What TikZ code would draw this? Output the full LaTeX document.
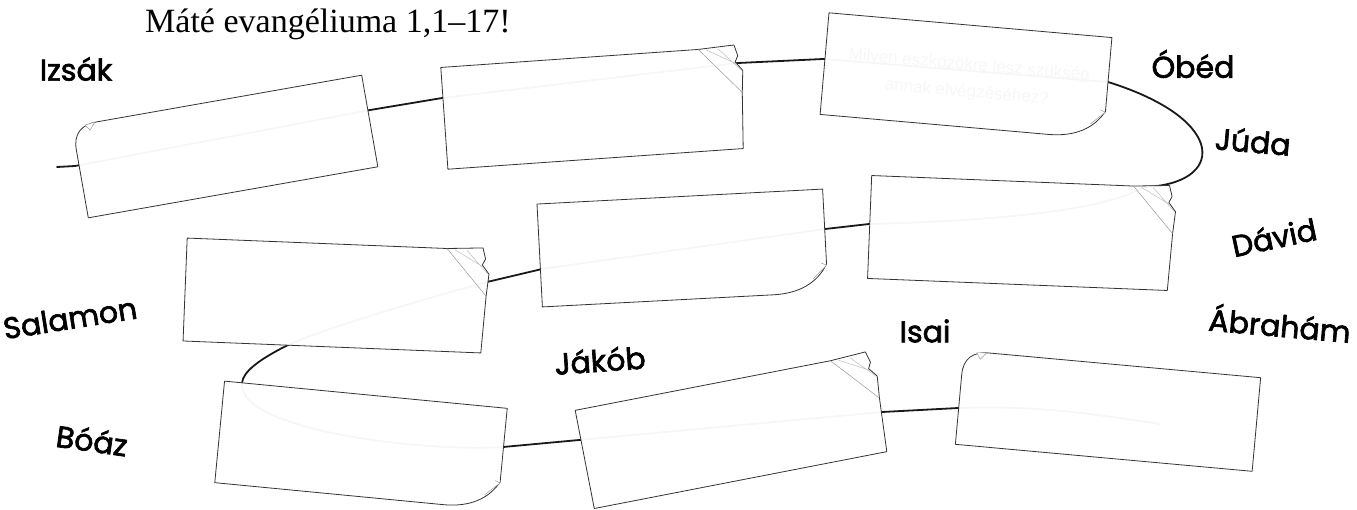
\documentclass[tikz,border=0pt]{standalone}
\usepackage{fontspec}
\setmainfont{Liberation Serif}
\newfontfamily\namefont{Poppins}[FakeBold=2.2]
\newfontfamily\hintfont{Liberation Sans}
\usetikzlibrary{calc}

\tikzset{
  note/.style={draw=black!80, line width=0.8pt, fill=white, fill opacity=0.965, line join=round},
  crease/.style={draw=black!40, line width=0.5pt},
  cord/.style={line width=1.8pt, black!90, line cap=round},
  person/.style={font=\namefont\fontsize{30}{30}\selectfont, inner sep=0pt},
  heading/.style={font=\fontsize{34}{34}\selectfont, inner sep=0pt},
  % note with the top right corner peeled
  pics/peel/.style 2 args={code={
    \path[note] (-#1,-#2) -- (#1-38,-#2) -- (#1-2,-#2-2) -- (#1+1,-#2+9) -- (#1-2,-#2+15)
      -- (#1+5,-#2+24) -- (#1+3,-#2+46) -- (#1,#2) -- (-#1,#2) -- cycle;
    \draw[crease] (#1-38,-#2) -- (#1+3,-#2+46);
    \draw[crease, black!25] (#1-30,-#2+1) -- (#1-1,-#2+17) (#1-18,-#2+1) -- (#1+4,-#2+24);
  }},
  % note with the bottom right corner rolled up
  pics/roll/.style 2 args={code={
    \path[note] (-#1,-#2) -- (#1,-#2) -- (#1,#2-28) .. controls (#1-10,#2-10) and (#1-28,#2) .. (#1-55,#2)
      -- (-#1,#2) -- cycle;
    \draw[crease, fill=white] (#1-5,#2-29) -- (#1,#2-27) -- (#1-14,#2-14);
  }},
  % note with a rounded top left corner
  pics/dog/.style 2 args={code={
    \path[note] (-#1,-#2+24) .. controls (-#1,-#2+8) and (-#1+9,-#2) .. (-#1+25,-#2) -- (#1,-#2)
      -- (#1,#2) -- (-#1,#2) -- cycle;
    \draw[crease, fill=white] (-#1+13,-#2+1) -- (-#1+23,-#2) -- (-#1+17,-#2+7) -- cycle;
  }}
}

\begin{document}
\begin{tikzpicture}[x=1pt, y=-1pt]
  \useasboundingbox (0,0) rectangle (1357,509);

  % where the cord goes into and out of the notes
  \coordinate (s)  at (57,167);
  \coordinate (i1) at (75,166);   \coordinate (o1) at (370,110);
  \coordinate (i2) at (442,98);   \coordinate (o2) at (738,63);
  \coordinate (i3) at (823,59);   \coordinate (o3) at (1108,82);
  \coordinate (i5) at (1143,187); \coordinate (o5) at (869,224);
  \coordinate (i4) at (825,229);  \coordinate (o4) at (542,269);
  \coordinate (i6) at (487,282);  \coordinate (o6) at (288,345);
  \coordinate (i7) at (242,383);  \coordinate (o7) at (503,447);
  \coordinate (i8) at (579,440);  \coordinate (o8) at (882,412);
  \coordinate (i9) at (958,408);  \coordinate (e)  at (1160,424);

  % the cord
  \draw[cord] (s) -- (i1) -- (o1) -- (i2) -- (o2) -- (i3) -- (o3)
    .. controls (1230,120) and (1225,185) .. (i5)
    .. controls (1100,215) and (950,222) .. (o5) -- (i4) -- (o4) -- (i6)
    .. controls (420,300) and (320,330) .. (o6)
    .. controls (258,360) and (243,372) .. (i7)
    .. controls (238,430) and (420,452) .. (o7) -- (i8) -- (o8) -- (i9)
    .. controls (1040,405) and (1100,415) .. (e);

  % notes
  \pic[rotate=10]   (c1) at (225,146.5)  {dog={147}{46.5}};
  \pic[rotate=4]    (c2) at (592,108)    {peel={148}{51}};
  \pic[rotate=-5]   (c3) at (966,76)     {roll={142}{51}};
  \pic[rotate=3]    (c4) at (682.5,248)  {roll={143}{51.5}};
  \pic[rotate=-2.3] (c5) at (1019.5,233) {peel={150}{51.5}};
  \pic[rotate=-2.3] (c6) at (334,295.5)  {peel={149}{51.5}};
  \pic[rotate=-5.5] (c7) at (361,445.5)  {roll={142}{51}};
  \pic[rotate=11]   (c8) at (731,431)    {peel={149}{50}};
  \pic[rotate=-5.2] (c9) at (1108,411)   {dog={149}{47}};

  \node[rotate=-5, text=black!3, align=center, font=\hintfont\fontsize{17}{27}\selectfont]
    (hint) at (968,79) {Milyen eszközökre lesz szükség\\annak elvégzéséhez?};

  % title and names
  \node[heading, anchor=base west] (title) at (145,32) {Máté evangéliuma 1,1–17!};
  \node[person] (izsak)   at (76,69)    {Izsák};
  \node[person] (obed)    at (1193,64)  {Óbéd};
  \node[person, rotate=-5] (juda)    at (1253,141) {Júda};
  \node[person, rotate=12] (david)   at (1274,237) {Dávid};
  \node[person, rotate=-5] (abraham) at (1280,323) {Ábrahám};
  \node[person] (isai)    at (925,331)  {Isai};
  \node[person, rotate=4]  (jakob)   at (600,360)  {Jákób};
  \node[person, rotate=9]  (salamon) at (70,318)   {Salamon};
  \node[person, rotate=-8] (boaz)    at (92,440)   {Bóáz};
\end{tikzpicture}
\end{document}
